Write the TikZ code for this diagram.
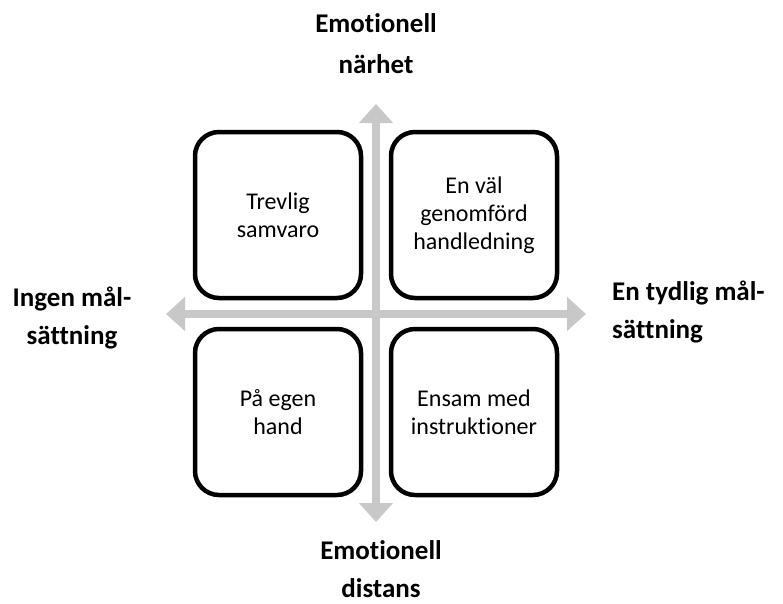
\documentclass[tikz,border=0pt]{standalone}
\usepackage{fontspec}
\setmainfont{Carlito}[Ligatures=NoCommon]
\usetikzlibrary{arrows.meta}
\definecolor{axisgray}{RGB}{200,200,200}
\tikzset{
  quad/.style={draw=black, line width=4.5pt, fill=white, rounded corners=24pt,
    minimum width=166pt, minimum height=166pt, inner sep=0pt, align=center,
    font=\fontsize{24}{28}\selectfont},
  axislabel/.style={font=\bfseries\fontsize{27}{38}\selectfont, inner sep=0pt},
  axisarrow/.style={draw=axisgray, line width=8.5pt,
    {Triangle[width=33pt,length=19pt]}-{Triangle[width=33pt,length=19pt]}}
}
\begin{document}
\begin{tikzpicture}[x=1pt,y=-1pt]
\useasboundingbox (0,0) rectangle (783,603);
% axis end points
\coordinate (vtop) at (376,104);
\coordinate (vbot) at (376,522);
\coordinate (hleft) at (166,314);
\coordinate (hright) at (586,314);
\draw[axisarrow] (vtop) -- (vbot);
\draw[axisarrow] (hleft) -- (hright);
% quadrant boxes
\node[quad] (tl) at (278,215) {Trevlig\\samvaro};
\node[quad] (tr) at (474,215) {En väl\\genomförd\\handledning};
\node[quad] (bl) at (278,412) {På egen\\hand};
\node[quad] (br) at (474,412) {Ensam med\\instruktioner};
% axis labels
\node[axislabel, align=center, font=\bfseries\fontsize{27}{41}\selectfont] (top) at (376,44) {Emotionell\\närhet};
\node[axislabel, align=center] (bot) at (381,569) {Emotionell\\distans};
\node[axislabel, align=center] (left) at (72,318) {Ingen mål-\\sättning};
\node[axislabel, align=left, anchor=west] (right) at (612,312) {En tydlig mål-\\sättning};
\end{tikzpicture}
\end{document}
